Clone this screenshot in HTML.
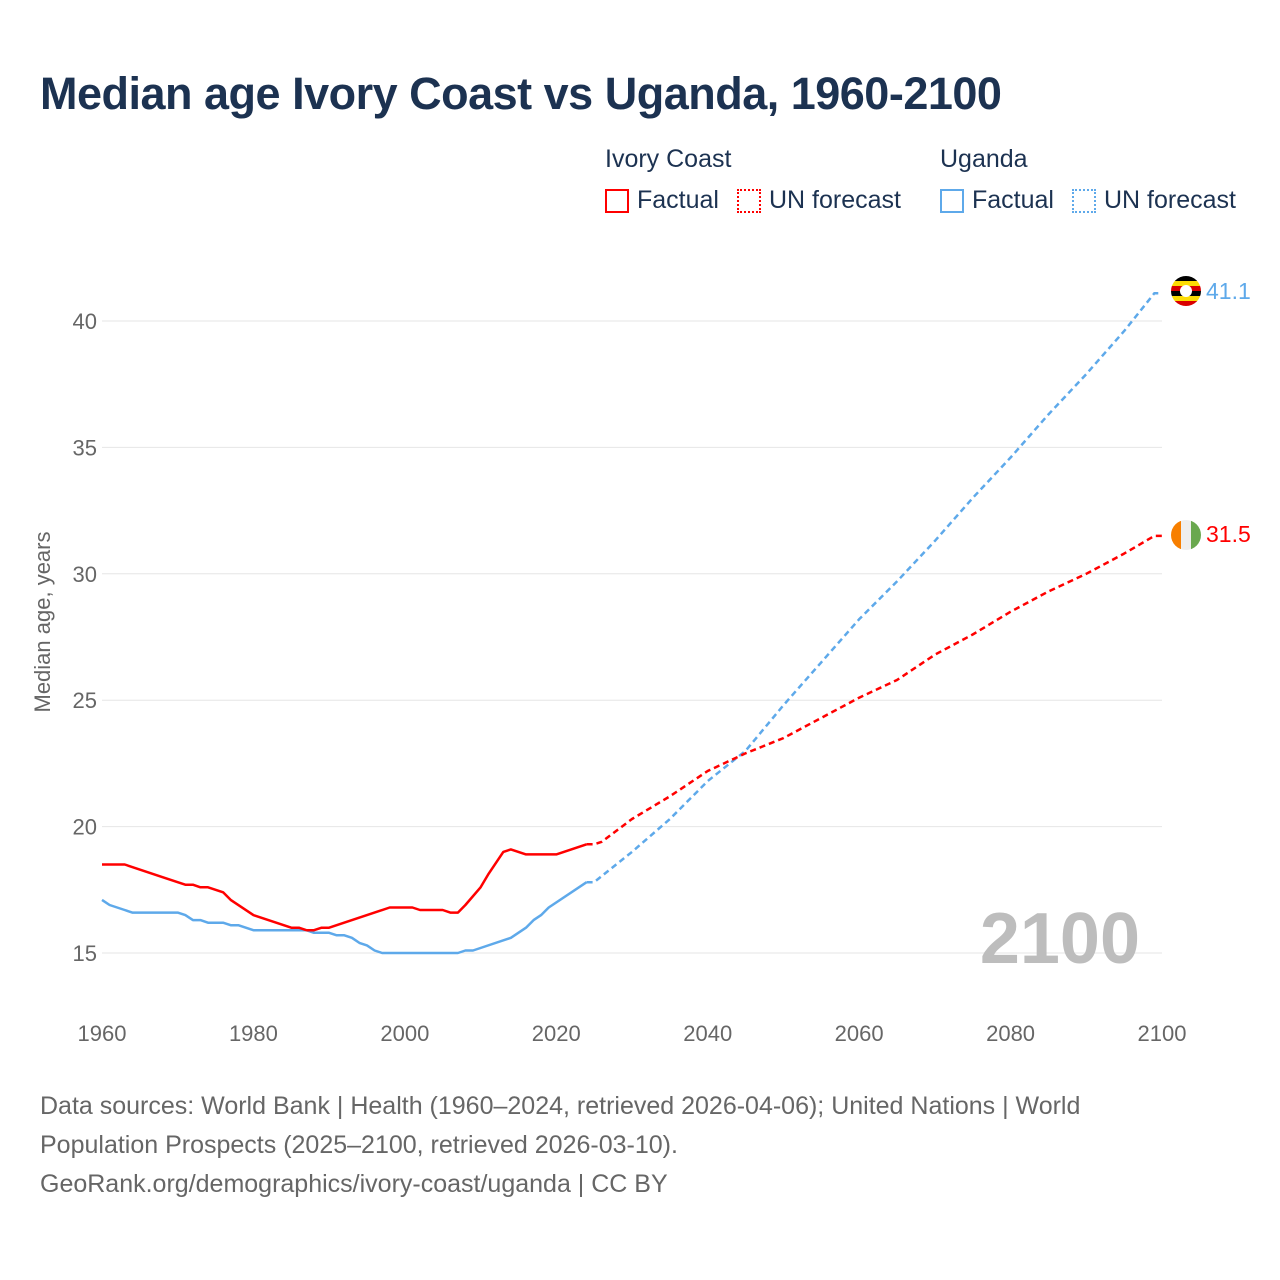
<!DOCTYPE html>
<html><head><meta charset="utf-8">
<style>
html,body{margin:0;padding:0;background:#fff;}
body{width:1280px;height:1280px;position:relative;font-family:"Liberation Sans",sans-serif;overflow:hidden;}
.abs{position:absolute;}
</style></head>
<body>
<div class="abs" style="left:40px;top:68px;font-size:45px;font-weight:bold;color:#1c3251;letter-spacing:-0.5px;">Median age Ivory Coast vs Uganda, 1960-2100</div>

<div>
<div class="abs" style="left:605px;top:145px;font-size:25px;color:#1c3251;">Ivory Coast</div>
<div class="abs" style="left:940px;top:145px;font-size:25px;color:#1c3251;">Uganda</div>
<div class="abs" style="left:605px;top:186px;font-size:25px;color:#1c3251;display:flex;align-items:center;"><span style="display:inline-block;width:20px;height:20px;border:2px solid #f00;margin-right:8px;"></span>Factual</div>
<div class="abs" style="left:737px;top:186px;font-size:25px;color:#1c3251;display:flex;align-items:center;"><span style="display:inline-block;width:20px;height:20px;border:2px dotted #f00;margin-right:8px;"></span>UN forecast</div>
<div class="abs" style="left:940px;top:186px;font-size:25px;color:#1c3251;display:flex;align-items:center;"><span style="display:inline-block;width:20px;height:20px;border:2px solid #5ea9ea;margin-right:8px;"></span>Factual</div>
<div class="abs" style="left:1072px;top:186px;font-size:25px;color:#1c3251;display:flex;align-items:center;"><span style="display:inline-block;width:20px;height:20px;border:2px dotted #5ea9ea;margin-right:8px;"></span>UN forecast</div>
</div>

<svg id="chart" class="abs" style="left:0;top:0" width="1280" height="1280"></svg>

<div class="abs" style="left:1171px;top:276px;width:30px;height:30px;border-radius:50%;overflow:hidden;background:linear-gradient(#000 0 16.6%,#fcdc04 16.6% 33.3%,#d90000 33.3% 50%,#000 50% 66.6%,#fcdc04 66.6% 83.3%,#d90000 83.3%);">
<div style="position:absolute;left:9px;top:9px;width:12px;height:12px;border-radius:50%;background:#fff;"></div></div>
<div class="abs" style="left:1171px;top:520px;width:30px;height:30px;border-radius:50%;overflow:hidden;background:linear-gradient(90deg,#f77f00 0 33.3%,#eee 33.3% 66.6%,#6aa84f 66.6%);"></div>

<div class="abs" style="left:40px;top:1087px;font-size:25px;line-height:39px;color:#666;">Data sources: World Bank | Health (1960–2024, retrieved 2026-04-06); United Nations | World<br>Population Prospects (2025–2100, retrieved 2026-03-10).<br>GeoRank.org/demographics/ivory-coast/uganda | CC BY</div>

<script>
const years=[1960,1980,2000,2020,2040,2060,2080,2100];
const yTicks=[15,20,25,30,35,40];
const ivoryFactYears=[1960,1963,1968,1970,1971,1972,1973,1974,1976,1977,1980,1985,1986,1987,1988,1989,1990,1998,2001,2002,2005,2006,2007,2008,2010,2011,2013,2014,2016,2020,2024];
const ivoryFactVals=[18.5,18.5,18.0,17.8,17.7,17.7,17.6,17.6,17.4,17.1,16.5,16.0,16.0,15.9,15.9,16.0,16.0,16.8,16.8,16.7,16.7,16.6,16.6,16.9,17.6,18.1,19.0,19.1,18.9,18.9,19.3];
const ivoryFcYears=[2024,2025,2026,2030,2035,2040,2045,2050,2055,2060,2065,2070,2075,2080,2085,2090,2095,2099,2100];
const ivoryFcVals=[19.3,19.3,19.4,20.3,21.2,22.2,22.9,23.5,24.3,25.1,25.8,26.8,27.6,28.5,29.3,30.0,30.8,31.5,31.5];
const ugFactYears=[1960,1961,1963,1964,1970,1971,1972,1973,1974,1976,1977,1978,1980,1987,1988,1990,1991,1992,1993,1994,1995,1996,1997,2007,2008,2009,2014,2016,2017,2018,2019,2024];
const ugFactVals=[17.1,16.9,16.7,16.6,16.6,16.5,16.3,16.3,16.2,16.2,16.1,16.1,15.9,15.9,15.8,15.8,15.7,15.7,15.6,15.4,15.3,15.1,15.0,15.0,15.1,15.1,15.6,16.0,16.3,16.5,16.8,17.8];
const ugFcYears=[2024,2025,2030,2035,2040,2045,2050,2055,2060,2065,2070,2075,2080,2085,2090,2095,2099,2100];
const ugFcVals=[17.8,17.8,19.0,20.3,21.8,23.0,24.8,26.5,28.2,29.7,31.3,33.0,34.6,36.3,37.9,39.6,41.1,41.1];
const endLabels=["41.1","31.5"];

const NS="http://www.w3.org/2000/svg";
const svg=document.getElementById('chart');
const X=y=>102+(y-1960)*(1060/140);
const Y=v=>953-(v-15)*(632/25);
function mk(t,a){const e=document.createElementNS(NS,t);for(const k in a)e.setAttribute(k,a[k]);svg.appendChild(e);return e;}

yTicks.forEach(t=>{
  const l=mk('line',{x1:102,x2:1162,y1:Y(t),y2:Y(t),stroke:'#e6e6e6','stroke-width':1});
  
  
  const tx=mk('text',{x:97,y:Y(t)+8,'text-anchor':'end','font-size':22,fill:'#666','font-family':'Liberation Sans, sans-serif'});
  tx.textContent=t;
  
  
});
years.forEach(t=>{
  const tx=mk('text',{x:X(t),y:1041,'text-anchor':'middle','font-size':22,fill:'#666','font-family':'Liberation Sans, sans-serif'});
  tx.textContent=t;
  
  
});
const yt=mk('text',{x:0,y:0,transform:'translate(50,622) rotate(-90)','text-anchor':'middle','font-size':22,fill:'#666','font-family':'Liberation Sans, sans-serif'});
yt.textContent='Median age, years';



const yr=mk('text',{x:1140,y:963,'text-anchor':'end','font-size':72,'font-weight':'bold',fill:'#bdbdbd','font-family':'Liberation Sans, sans-serif'});
yr.textContent='2100';



function line(xs,vs,color,dash,name){
  const d=xs.map((x,i)=>(i?'L':'M')+X(x).toFixed(1)+','+Y(vs[i]).toFixed(1)).join('');
  const p=mk('path',{d:d,fill:'none',stroke:color,'stroke-width':2.5,'stroke-dasharray':dash||'none','stroke-linejoin':'round'});
  
  
}
line(ugFactYears,ugFactVals,'#5ea9ea',null,'uganda-factual-line');
line(ugFcYears,ugFcVals,'#5ea9ea','6,4','uganda-forecast-line');
line(ivoryFactYears,ivoryFactVals,'#ff0000',null,'ivory-coast-factual-line');
line(ivoryFcYears,ivoryFcVals,'#ff0000','6,4','ivory-coast-forecast-line');

const l1=mk('text',{x:1206,y:Y(ugFcVals[ugFcVals.length-1])+6,'font-size':23,fill:'#5ea9ea','font-family':'Liberation Sans, sans-serif'});
l1.textContent=endLabels[0];


const l2=mk('text',{x:1206,y:Y(ivoryFcVals[ivoryFcVals.length-1])+6,'font-size':23,fill:'#ff0000','font-family':'Liberation Sans, sans-serif'});
l2.textContent=endLabels[1];


</script>
</body></html>
